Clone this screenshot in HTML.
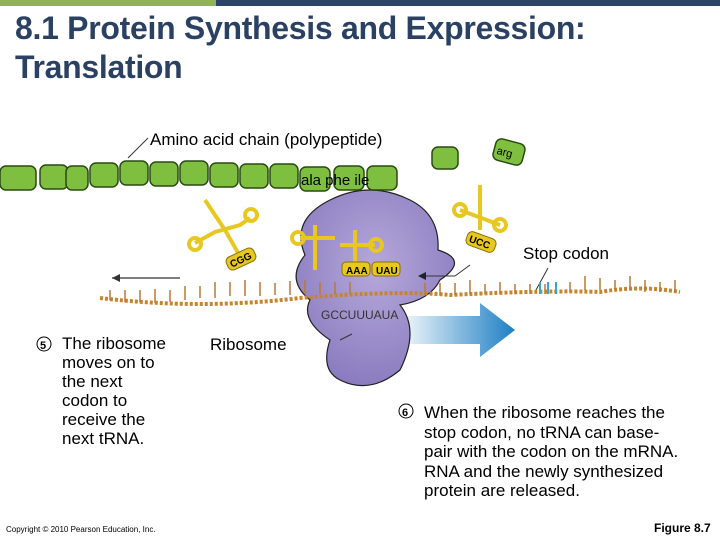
<!DOCTYPE html>
<html><head><style>
body{margin:0;width:720px;height:540px;overflow:hidden;background:#fff;font-family:"Liberation Sans",sans-serif;position:relative}
.t{position:absolute;color:#000;font-size:17px}
</style></head><body>
<div style="position:absolute;left:0;top:0;width:216px;height:6px;background:#8fb356"></div>
<div style="position:absolute;left:216px;top:0;width:504px;height:6px;background:#2c4468"></div>
<div class="t" style="left:15px;top:9px;font-size:32px;color:#2b4163;line-height:39px;font-weight:bold;letter-spacing:-0.3px">8.1 Protein Synthesis and Expression:<br>Translation</div>
<svg width="720" height="540" style="position:absolute;left:0;top:0">
<defs><linearGradient id="bg" x1="0" x2="1"><stop offset="0" stop-color="#fff"/><stop offset="1" stop-color="#1d7fc4"/></linearGradient>
<radialGradient id="rb" cx="0.5" cy="0.4" r="0.6"><stop offset="0" stop-color="#b6a8da"/><stop offset="1" stop-color="#8b7cc0"/></radialGradient></defs>
<path d="M395 316 H480 V303 L515 330 L480 357 V344 H395 Z" fill="url(#bg)"/>
<path d="M330 200 Q370 180 410 200 Q440 215 438 250 Q470 260 440 280 Q430 300 400 305 Q420 330 400 370 Q370 395 340 380 Q320 370 330 340 Q300 320 310 300 Q285 280 305 255 Q290 220 330 200Z" fill="url(#rb)" stroke="#222" stroke-width="1.2"/>
<g fill="#7fbf3f" stroke="#2a4a12" stroke-width="1.5">
<rect x="90" y="163" width="28" height="24" rx="6"/><rect x="120" y="161" width="28" height="24" rx="6"/><rect x="150" y="162" width="28" height="24" rx="6"/><rect x="180" y="161" width="28" height="24" rx="6"/><rect x="210" y="163" width="28" height="24" rx="6"/><rect x="240" y="164" width="28" height="24" rx="6"/><rect x="270" y="164" width="28" height="24" rx="6"/>
<rect x="300" y="167" width="30" height="24" rx="6"/><rect x="334" y="166" width="30" height="24" rx="6"/><rect x="367" y="166" width="30" height="24" rx="6"/>
<rect x="0" y="166" width="36" height="24" rx="6"/><rect x="40" y="165" width="28" height="24" rx="6"/><rect x="66" y="166" width="22" height="24" rx="6"/>
<rect x="432" y="147" width="26" height="22" rx="6"/><rect x="494" y="141" width="30" height="22" rx="6" transform="rotate(15 509 152)"/>
</g>
<text x="301" y="185" font-size="15" font-family="Liberation Sans">ala phe ile</text>
<text x="497" y="157" font-size="11" font-family="Liberation Sans" transform="rotate(15 509 152)">arg</text>
<line x1="128" y1="158" x2="148" y2="138" stroke="#333"/>
<line x1="112" y1="278" x2="180" y2="278" stroke="#333" stroke-width="1.3"/><path d="M112 278 l8 -4 v8z" fill="#333"/>
<line x1="420" y1="276" x2="455" y2="276" stroke="#333"/><path d="M418 276 l8 -4 v8z" fill="#222"/>
<line x1="455" y1="276" x2="470" y2="265" stroke="#333"/>
<line x1="536" y1="290" x2="548" y2="268" stroke="#333"/>
<line x1="340" y1="340" x2="352" y2="334" stroke="#333"/>
<path d="M100 298 Q200 310 300 298 Q400 290 450 295 Q550 290 600 292 Q640 285 680 292" fill="none" stroke="#c8842c" stroke-width="4" stroke-dasharray="3 2"/>
<g stroke="#b97a35" stroke-width="1.5">
<path d="M110 300v-10M125 302v-12M140 302v-12M155 303v-14M170 302v-12M185 300v-14M200 298v-12M215 298v-16M230 296v-14M245 296v-16M260 296v-14M275 295v-12M290 295v-14M305 294v-14M320 294v-12M335 294v-12M350 294v-12M425 295v-12M440 295v-12M455 295v-12M470 294v-14M485 294v-10M500 294v-12M515 294v-10M530 294v-10M545 294v-10M570 292v-10M585 290v-14M600 290v-12M615 290v-10M630 290v-14M645 292v-12M660 292v-10M675 292v-12"/>
</g>
<g stroke="#35a6d0" stroke-width="2"><path d="M540 294v-12M548 294v-12M556 294v-12"/></g>
<g fill="none" stroke="#e8c820" stroke-width="4">
<path d="M205 200 L225 230 L245 265 M195 243 L215 232 L240 225 L250 218"/>
<circle cx="195" cy="244" r="6"/><circle cx="251" cy="215" r="6"/>
<path d="M315 225 V270 M300 238 H335 M355 230 V270 M340 245 H375 M480 185 V230 M460 210 L500 225"/>
<circle cx="298" cy="238" r="6"/><circle cx="376" cy="245" r="6"/><circle cx="460" cy="210" r="6"/><circle cx="500" cy="225" r="6"/>
</g>
<g fill="#e8c820" stroke="#8a7000">
<rect x="342" y="262" width="28" height="14" rx="4"/><rect x="372" y="262" width="28" height="14" rx="4"/>
<rect x="466" y="235" width="30" height="14" rx="5" transform="rotate(20 481 242)"/>
<rect x="226" y="252" width="30" height="14" rx="5" transform="rotate(-25 241 259)"/>
</g>
<text x="346" y="274" font-size="10" font-family="Liberation Sans" font-weight="bold">AAA</text>
<text x="376" y="274" font-size="10" font-family="Liberation Sans" font-weight="bold">UAU</text>
<text x="469" y="246" font-size="10" font-family="Liberation Sans" font-weight="bold" transform="rotate(20 481 242)">UCC</text>
<text x="229" y="263" font-size="10" font-family="Liberation Sans" font-weight="bold" transform="rotate(-25 241 259)">CGG</text>
<text x="321" y="319" font-size="12" fill="#333" font-family="Liberation Sans">GCCUUUAUA</text>
<circle cx="44" cy="344" r="7" fill="#fff" stroke="#000"/><text x="40" y="349" font-size="11" font-weight="bold" font-family="Liberation Sans">5</text>
<circle cx="406" cy="411" r="7" fill="#fff" stroke="#000"/><text x="402" y="416" font-size="11" font-weight="bold" font-family="Liberation Sans">6</text>
</svg>
<div class="t" style="left:150px;top:130px">Amino acid chain (polypeptide)</div>
<div class="t" style="left:523px;top:244px">Stop codon</div>
<div class="t" style="left:210px;top:335px">Ribosome</div>
<div class="t" style="left:62px;top:334px;line-height:19px">The ribosome<br>moves on to<br>the next<br>codon to<br>receive the<br>next tRNA.</div>
<div class="t" style="left:424px;top:403px;line-height:19.5px">When the ribosome reaches the<br>stop codon, no tRNA can base-<br>pair with the codon on the mRNA.<br>RNA and the newly synthesized<br>protein are released.</div>
<div class="t" style="left:6px;top:525px;font-size:8px">Copyright © 2010 Pearson Education, Inc.</div>
<div class="t" style="left:654px;top:521px;font-size:12px;font-weight:bold">Figure 8.7</div>
</body></html>
